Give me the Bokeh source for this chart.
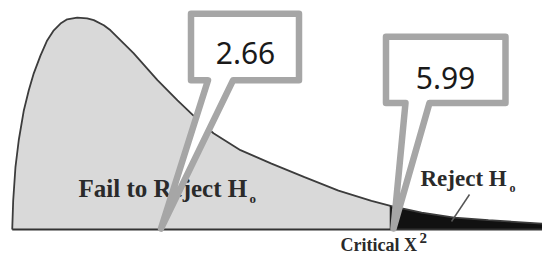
import numpy as np
from bokeh.plotting import figure
from bokeh.models import Range1d
from bokeh.embed import file_html
from bokeh.resources import INLINE
from bokeh.core.properties import value

# ---- data (chi-square-like density curve) ----
chi_x = [0.513, 0.527, 0.560, 0.608, 0.681, 0.753, 0.825, 0.922, 1.019, 1.115,
         1.212, 1.309, 1.454, 1.598, 1.694, 1.839, 1.936, 2.269, 2.616, 2.906,
         3.137, 3.427, 3.818, 4.267, 4.745, 5.237, 5.715, 5.990, 6.441, 6.916,
         7.408, 8.190]
density = [0.000, 0.034, 0.074, 0.106, 0.141, 0.165, 0.185, 0.206, 0.224, 0.236,
           0.244, 0.249, 0.251, 0.250, 0.248, 0.242, 0.236, 0.209, 0.177, 0.153,
           0.135, 0.114, 0.094, 0.078, 0.062, 0.046, 0.034, 0.028, 0.020, 0.014,
           0.011, 0.007]
test_stat = 2.66
critical = 5.99
callout_values = [test_stat, critical]
callout_labels = ["2.66", "5.99"]
region_labels = ["Fail to Reject H", "Reject H"]
critical_label = "Critical X"

# ---- layout ----
W, H = 542, 255
SX = 69.065   # px per x unit
SY = 844.2    # px per y unit
XR = (test_stat - 160 / SX, test_stat + (W - 160) / SX)
YR = (-(H - 229) / SY, 229 / SY)


def at(px, py):
    """picture-pixel position (for annotations) -> data coords"""
    return XR[0] + px / SX, YR[1] - py / SY


def off(x, y, dx, dy_up):
    return x + dx / SX, y + dy_up / SY


p = figure(width=W, height=H, output_backend="svg", toolbar_location=None,
           x_range=Range1d(*XR), y_range=Range1d(*YR), min_border=0,
           background_fill_color="white", border_fill_color="white")
p.axis.visible = False
p.grid.visible = False
p.outline_line_color = None

cx = np.array(chi_x)
cy = np.array(density)
left = cx <= critical
right = cx >= critical

p.varea(x=cx[left], y1=0, y2=cy[left], fill_color="#d9d9d9")
p.varea(x=cx[right], y1=0, y2=cy[right], fill_color="#111111")
p.line(cx, cy, line_color="#3c3c3c", line_width=1.8)
p.line([cx[0], cx[-1]], [0, 0], line_color="#333333", line_width=2)
crit_y = cy[np.argmin(np.abs(cx - critical))]
p.line([critical, critical], [0, crit_y], line_color="#222222", line_width=1.5)

serif = value("Liberation Serif")
SERIF_SHIFT = 0.28   # em, empirical baseline correction
SANS_SHIFT = 0.41


def label(txt, px, py, size, align="left"):
    x, y = at(px, py - SERIF_SHIFT * size)
    p.text(x=[x], y=[y], text=[txt], text_font=serif, text_font_style="bold",
           text_font_size=f"{size}px", text_color="#2a2a2a",
           text_baseline="alphabetic", text_align=align)

label(region_labels[0], 78, 194.5, 25)
label("o", 249, 201.5, 13)
label(region_labels[1], 420, 184, 23)
label("o", 509, 191, 12)
label(critical_label, 340, 250, 18)
label("2", 419, 241.5, 15)

# pointer from "Reject H0" into the tail
x1, y1 = at(469, 194)
x2, y2 = at(451, 221)
p.line([x1, x2], [y1, y2], line_color="#555555", line_width=1.5)

# ---- callouts (speech bubbles), anchored at the data values ----
# (tip dx, box left, box right, box top-up, box bottom-up, wedge left, wedge right, text dx, text baseline-up)
shapes = [
    (0.5, 30.5, 138.5, 215.7, 149.2, 47.5, 72.5, 85, 164),
    (3.0, -4.5, 115.0, 192.7, 126.5, 15.0, 39.0, 55, 139.5),
]
for v, lab, s in zip(callout_values, callout_labels, shapes):
    tdx, bl, br, bt, bb, wl, wr, txd, tyu = s
    pts = [(bl, bt), (br, bt), (br, bb), (wr, bb), (tdx, 1.0), (wl, bb), (bl, bb)]
    xs, ys = zip(*[off(v, 0, dx, du) for dx, du in pts])
    p.patch(list(xs), list(ys), fill_color="white", line_color="#a6a6a6",
            line_width=6.5, line_join="round")
    tx, ty = off(v, 0, txd, tyu + SANS_SHIFT * 30)
    p.text(x=[tx], y=[ty], text=[lab], text_font=value("Noto Sans"),
           text_font_size="30px", text_color="#1a1a1a", text_align="center",
           text_baseline="alphabetic")

open("out.html", "w").write(file_html(p, INLINE))
